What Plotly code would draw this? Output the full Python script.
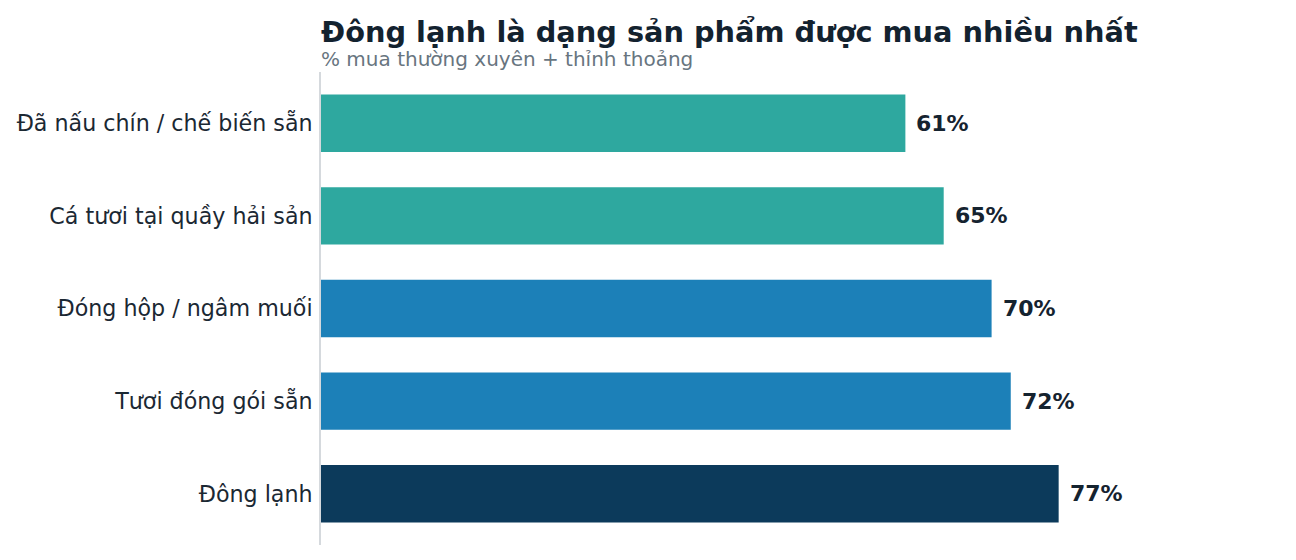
import plotly.graph_objects as go

categories = ["Đã nấu chín / chế biến sẵn", "Cá tươi tại quầy hải sản", "Đóng hộp / ngâm muối", "Tươi đóng gói sẵn", "Đông lạnh"]
values = [61, 65, 70, 72, 77]
colors = ["#2EA89F", "#2EA89F", "#1C80B8", "#1C80B8", "#0C3A5B"]
labels = [f"{v}%" for v in values]

title = "Đông lạnh là dạng sản phẩm được mua nhiều nhất"
subtitle = "% mua thường xuyên + thỉnh thoảng"

FONT = "DejaVu Sans"

fig = go.Figure()
fig.add_trace(go.Bar(
    y=categories, x=values, orientation="h",
    marker=dict(color=colors, line=dict(width=0)),
    width=0.62, hoverinfo="skip",
))

for c, v, t in zip(categories, values, labels):
    fig.add_annotation(x=v, y=c, text=f"<b>{t}</b>", showarrow=False,
                       xanchor="left", xshift=9,
                       font=dict(family=FONT, size=22, color="#15232F"))

fig.add_annotation(x=0, xref="paper", y=(545 - 32) / 473, yref="paper",
                   text=f"<b>{title}</b>", showarrow=False, xanchor="left", yanchor="middle",
                   xshift=-2,
                   font=dict(family=FONT, size=28.8, color="#13222F"))
fig.add_annotation(x=0, xref="paper", y=(545 - 58.5) / 473, yref="paper",
                   text=subtitle, showarrow=False, xanchor="left", yanchor="middle",
                   xshift=-2,
                   font=dict(family=FONT, size=20, color="#68757F"))

fig.update_layout(
    width=1296, height=560,
    margin=dict(l=313, r=25, t=64, b=23),
    paper_bgcolor="white", plot_bgcolor="white",
    showlegend=False,
    font=dict(family=FONT),
    xaxis=dict(range=[0, 100], visible=False, fixedrange=True, automargin=False),
    yaxis=dict(
        categoryorder="array", categoryarray=categories[::-1],
        autorange=False, automargin=False,
        range=[-0.553, 4.553],
        showline=True, linecolor="#D5D9DD", linewidth=2,
        showgrid=False, zeroline=False, ticks="",
        ticklabelstandoff=2,
        tickfont=dict(family=FONT, size=22.2, color="#1B2833"),
    ),
)

fig.write_html("out.html")
